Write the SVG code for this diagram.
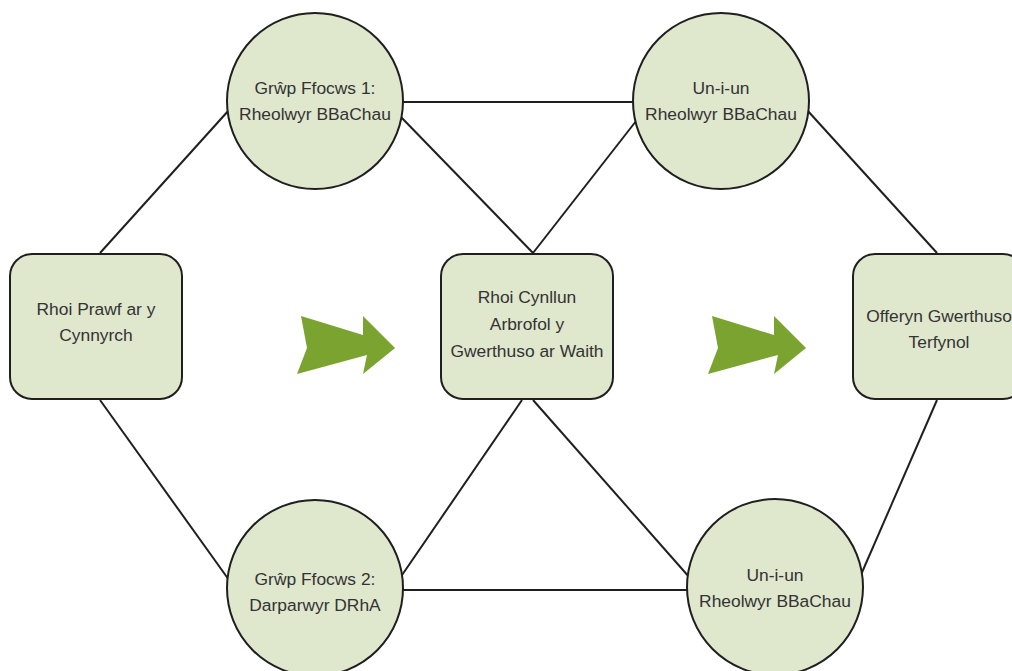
<svg xmlns="http://www.w3.org/2000/svg" width="1012" height="671" viewBox="0 0 1012 671">
<style>
.n{fill:#dfe7cd;stroke:#1f1f1f;stroke-width:2}
.t{font-family:"Liberation Sans",Arial,sans-serif;font-size:17.4px;fill:#333;text-anchor:middle}
.c line{stroke:#1f1f1f;stroke-width:2}
.a{fill:#7aa32f}
</style>
<rect width="1012" height="671" fill="#fff"/>
<g class="c" id="connectors">
<line x1="100" y1="253" x2="229" y2="110"/>
<line x1="100" y1="400" x2="229" y2="580"/>
<line x1="403" y1="102" x2="633" y2="102"/>
<line x1="400" y1="116" x2="533" y2="253"/>
<line x1="640" y1="116" x2="533" y2="253"/>
<line x1="522" y1="400" x2="400" y2="578"/>
<line x1="533" y1="400" x2="690" y2="578"/>
<line x1="403" y1="590" x2="687" y2="590"/>
<line x1="807" y1="110" x2="937" y2="253"/>
<line x1="937" y1="400" x2="860" y2="577"/>
</g>
<g id="arrow1"><polygon class="a" points="301,316 363,335 363,316 395,348 363,374 367,355 297,374 307,348"/></g>
<g id="arrow2"><polygon class="a" points="712,316 774,335 774,316 806,348 774,374 778,355 708,374 718,348"/></g>
<g id="n1"><rect class="n" x="10" y="254" width="172" height="145" rx="22"/>
<text class="t" x="96" y="315">Rhoi Prawf ar y</text><text class="t" x="96" y="341">Cynnyrch</text></g>
<g id="n2"><circle class="n" cx="315" cy="101" r="88"/>
<text class="t" x="315" y="94">Grŵp Ffocws 1:</text><text class="t" x="315" y="120">Rheolwyr BBaChau</text></g>
<g id="n3"><circle class="n" cx="721" cy="101" r="88"/>
<text class="t" x="721" y="94">Un-i-un</text><text class="t" x="721" y="120">Rheolwyr BBaChau</text></g>
<g id="n4"><rect class="n" x="441" y="254" width="172" height="145" rx="22"/>
<text class="t" x="527" y="303">Rhoi Cynllun</text><text class="t" x="527" y="330">Arbrofol y</text><text class="t" x="527" y="357">Gwerthuso ar Waith</text></g>
<g id="n5"><rect class="n" x="853" y="254" width="172" height="145" rx="22"/>
<text class="t" x="939" y="322">Offeryn Gwerthuso</text><text class="t" x="939" y="348">Terfynol</text></g>
<g id="n6"><circle class="n" cx="315" cy="588" r="88"/>
<text class="t" x="315" y="585">Grŵp Ffocws 2:</text><text class="t" x="315" y="611">Darparwyr DRhA</text></g>
<g id="n7"><circle class="n" cx="775" cy="587" r="88"/>
<text class="t" x="775" y="581">Un-i-un</text><text class="t" x="775" y="607">Rheolwyr BBaChau</text></g>
</svg>
